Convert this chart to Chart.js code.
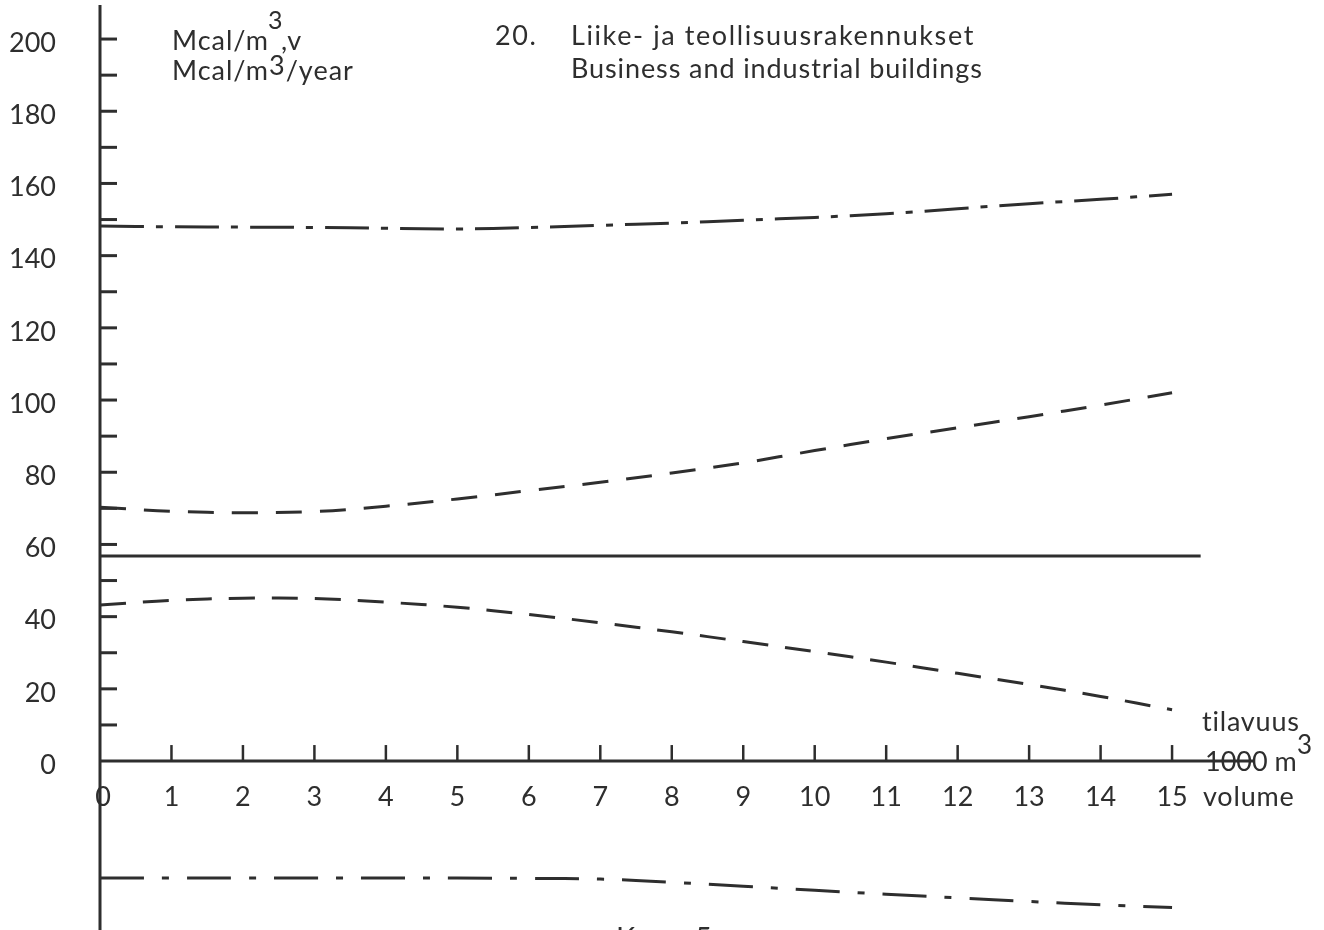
<!DOCTYPE html>
<html lang="fi">
<head>
<meta charset="UTF-8">
<title>Liike- ja teollisuusrakennukset</title>
<style>
  body{ margin:0; background:#fff; }
  #wrap{ width:1324px; height:930px; }
</style>
</head>
<body>
<div id="wrap"><canvas id="myc" width="1324" height="930"></canvas></div>

<script src="https://cdn.jsdelivr.net/npm/chart.js"></script>
<script>
// volume, 1000 m3
var volumes = [0,1,2,3,4,5,6,7,8,9,10,11,12,13,14,15];
// Mcal/m3/year
var upperDashDot = [148.2,148.0,147.9,147.8,147.6,147.4,147.8,148.4,149.0,149.8,150.6,151.6,153.0,154.4,155.6,157.0];
var upperDashed  = [70.3,69.2,68.8,69.1,70.6,72.6,74.9,77.2,79.8,82.6,86.0,89.3,92.3,95.4,98.6,102.0];
var solidX = [0, 15.4];
var solidY = [56.8, 56.8];
var lowerDashed  = [43.2,44.5,45.1,45.0,44.0,42.6,40.6,38.3,35.8,33.1,30.3,27.4,24.3,21.2,17.9,14.2];
var belowDashDot = [-32.4,-32.4,-32.4,-32.4,-32.4,-32.4,-32.5,-32.7,-33.6,-34.7,-35.8,-36.9,-37.9,-38.9,-39.8,-40.6];

var yLabels = [0,20,40,60,80,100,120,140,160,180,200];
var xLabels = [0,1,2,3,4,5,6,7,8,9,10,11,12,13,14,15];

var ink = '#2e2e2e';
var font = 'Lato, "Noto Sans", sans-serif';

function pts(xs, ys){
    return xs.map(function(x,i){ return {x:x, y:ys[i]}; });
}

function line(data, dash){
    return {
        data: data,
        borderColor: ink,
        borderWidth: 3,
        borderDash: dash,
        pointRadius: 0,
        tension: 0.35,
        fill: false
    };
}

// axes, ticks and texts drawn with the chart's own scales
var axesPlugin = {
    id: 'paperAxes',
    afterDatasetsDraw: function(chart){
        var ctx = chart.ctx;
        var xs = chart.scales.x, ys = chart.scales.y;
        var x0 = xs.getPixelForValue(0), y0 = ys.getPixelForValue(0);
        ctx.save();
        ctx.strokeStyle = ink;
        ctx.fillStyle = ink;
        ctx.lineCap = 'butt';

        // y axis
        ctx.lineWidth = 3;
        ctx.beginPath();
        ctx.moveTo(x0, 5); ctx.lineTo(x0, 930);
        ctx.stroke();
        // x axis
        ctx.beginPath();
        ctx.moveTo(x0, y0); ctx.lineTo(xs.getPixelForValue(16.15), y0);
        ctx.stroke();

        // y ticks every 10
        for (var v = 10; v <= 200; v += 10){
            var py = ys.getPixelForValue(v);
            ctx.beginPath();
            ctx.moveTo(x0, py); ctx.lineTo(x0 + 17, py);
            ctx.stroke();
        }
        // x ticks
        ctx.lineWidth = 2.5;
        for (var i = 1; i <= 15; i++){
            var px = xs.getPixelForValue(i);
            ctx.beginPath();
            ctx.moveTo(px, y0 - 16); ctx.lineTo(px, y0);
            ctx.stroke();
        }

        ctx.font = '27px ' + font;
        ctx.textBaseline = 'middle';
        ctx.textAlign = 'right';
        yLabels.forEach(function(v){
            ctx.fillText(String(v), 56, ys.getPixelForValue(v) + 4);
        });
        ctx.textAlign = 'center';
        xLabels.forEach(function(v){
            ctx.fillText(String(v), xs.getPixelForValue(v) + (v === 0 ? 3 : 0), y0 + 36);
        });

        ctx.textAlign = 'left';
        ctx.letterSpacing = '0.8px';
        ctx.fillText('volume', 1203, y0 + 36);
        ctx.fillText('tilavuus', 1202, y0 - 39);
        ctx.letterSpacing = '0px';
        ctx.fillText('1000 m', 1205, y0 + 1);
        ctx.font = '26px ' + font;
        ctx.fillText('3', 1297, y0 - 15);

        // unit text
        ctx.textBaseline = 'alphabetic';
        ctx.font = '27px ' + font;
        ctx.letterSpacing = '1px';
        ctx.fillText('Mcal/m', 172, 50);
        var w1 = ctx.measureText('Mcal/m').width;
        ctx.fillText(',v', 172 + w1 + 12, 50);
        ctx.font = '25px ' + font;
        ctx.fillText('3', 172 + w1 - 1, 29);
        ctx.font = '27px ' + font;
        ctx.fillText('Mcal/m', 172, 80);
        ctx.fillText('3', 172 + w1, 75);
        var w3 = ctx.measureText('3').width;
        ctx.fillText('/year', 172 + w1 + w3, 80);

        // title
        ctx.letterSpacing = '1.6px';
        ctx.fillText('20.', 495, 45);
        ctx.fillText('Liike- ja teollisuusrakennukset', 571, 45);
        ctx.letterSpacing = '0.9px';
        ctx.fillText('Business and industrial buildings', 571, 78);

        // caption, cut off at the bottom of the page
        ctx.letterSpacing = '1.6px';
        ctx.font = '29px ' + font;
        ctx.fillText('Kuva 5', 616, 948);
        ctx.restore();
    }
};

var ctx = document.getElementById('myc').getContext('2d');
var myChart = new Chart(ctx, {
    type: 'line',
    data: {
        datasets: [
            line(pts(volumes, upperDashDot), [44,12,7,12]),
            line(pts(volumes, upperDashed), [26,18]),
            line(pts(solidX, solidY), []),
            line(pts(volumes, lowerDashed), [26,17]),
            line(pts(volumes, belowDashDot), [44,18,7,18])
        ]
    },
    options: {
        responsive: false,
        animation: false,
        devicePixelRatio: 1,
        layout: { padding: { left: 100, right: 14, top: 8, bottom: 0 } },
        plugins: { legend: { display: false }, tooltip: { enabled: false } },
        scales: {
            x: { type: 'linear', min: 0, max: 16.93, display: false },
            y: { type: 'linear', min: -46.8, max: 208.6, display: false }
        }
    },
    plugins: [axesPlugin]
});
</script>
</body>
</html>
